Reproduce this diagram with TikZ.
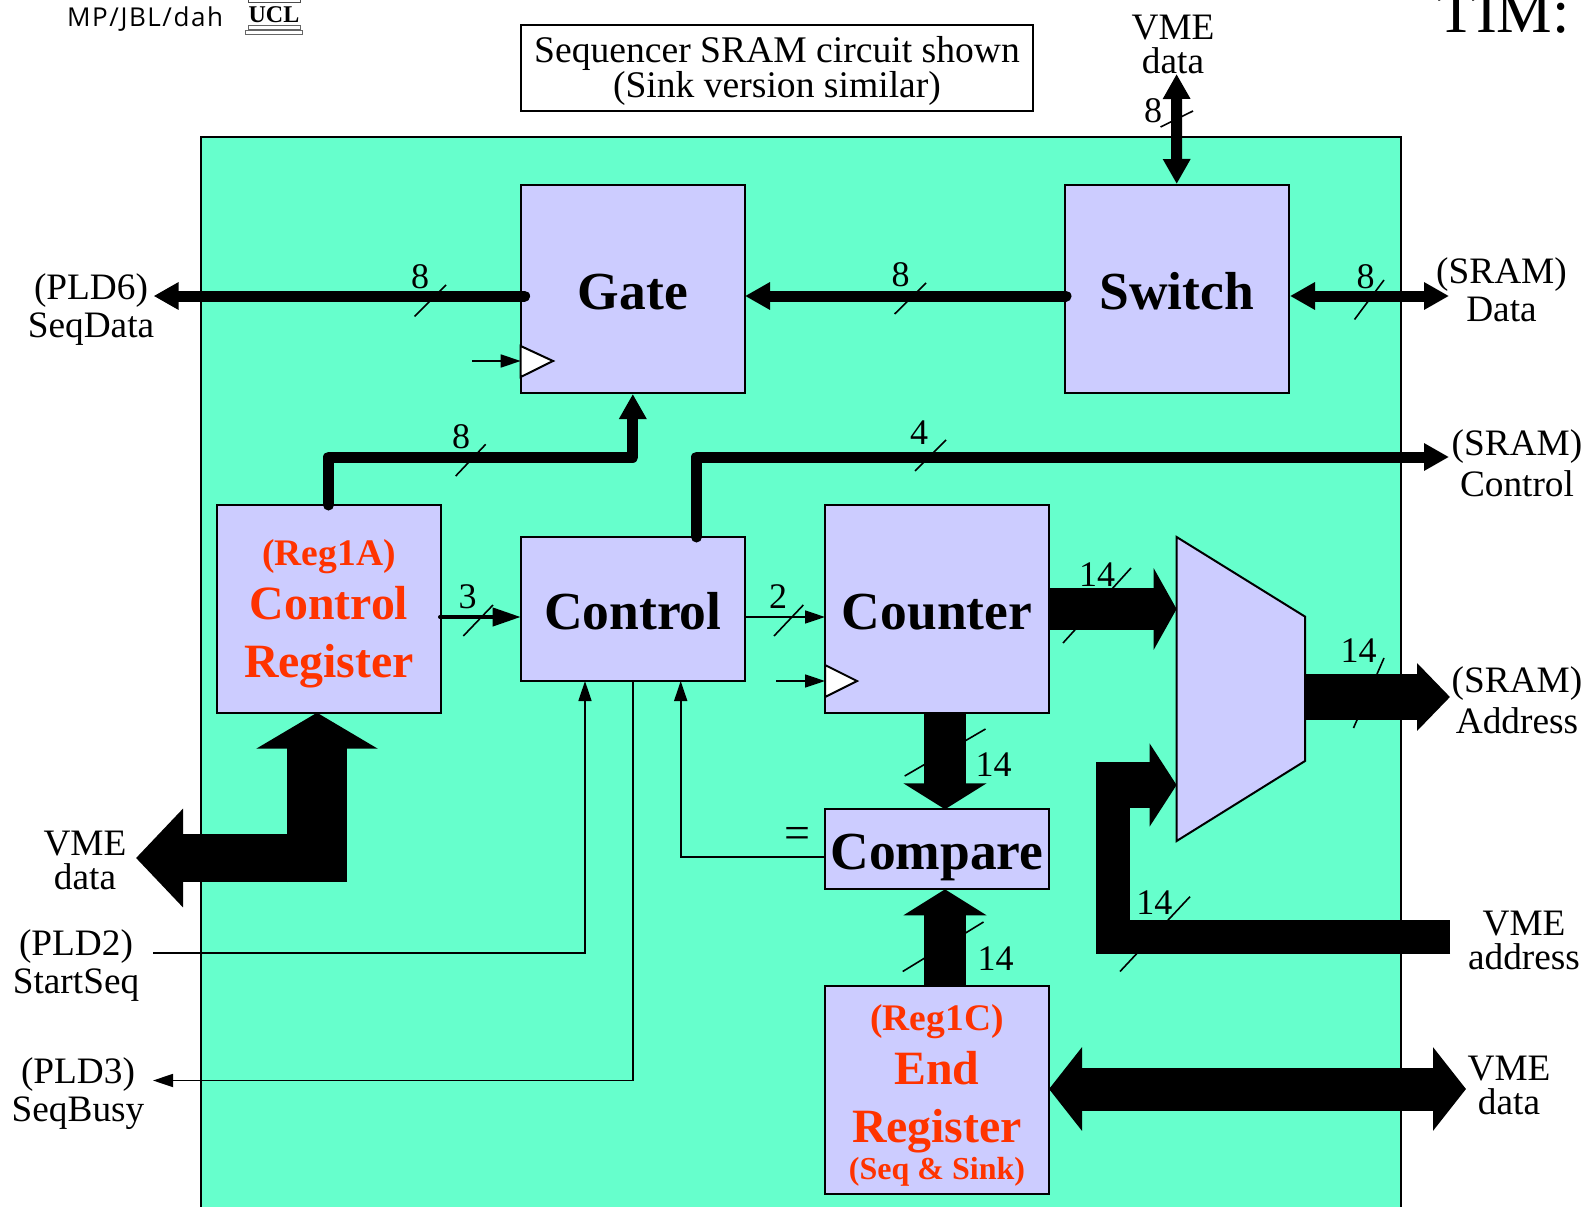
\documentclass[tikz,border=0pt]{standalone}
\usepackage{fontspec}
\setmainfont{Liberation Serif}
\newfontfamily\notefont[LetterSpace=6]{Open Sans}
\usetikzlibrary{arrows.meta}
\definecolor{boardcol}{HTML}{66FFCC}
\definecolor{blockcol}{HTML}{CCCCFF}
\definecolor{regcol}{HTML}{FF3300}
\tikzset{
  block/.style={draw,fill=blockcol,line width=2pt,minimum width=224pt,inner sep=0pt,align=center},
  lbl/.style={align=center,inner sep=0pt,font=\fontsize{37.3}{38}\selectfont},
  lblwide/.style={align=center,inner sep=0pt,font=\fontsize{37.3}{41}\selectfont},
  lbltight/.style={align=center,inner sep=0pt,font=\fontsize{37.3}{34}\selectfont},
  num/.style={inner sep=0pt,font=\fontsize{36}{36}\selectfont},
  title/.style={font=\fontsize{53.5}{54}\selectfont\bfseries,text height=40pt,text depth=0pt},
  slash/.style={line width=1.6pt},
  wire/.style={line width=1.7pt,-{Triangle[length=20pt,width=13pt]}},
  bus/.style={line width=11pt,line cap=round,line join=round,-{Triangle[length=25pt,width=26pt]}},
  busb/.style={line width=11pt,{Triangle[length=25pt,width=26pt]}-{Triangle[length=25pt,width=26pt]}},
}
\newcommand{\regsmall}[1]{{\fontsize{37.5}{37.5}\selectfont\bfseries\color{regcol}#1}}
\newcommand{\regbig}[1]{{\fontsize{47.8}{47.8}\selectfont\bfseries\color{regcol}#1}}
\begin{document}
\begin{tikzpicture}[x=1pt,y=-1pt,>=latex]
        \clip (0,0) rectangle (1585,1207);
        \fill[white] (0,0) rectangle (1585,1207);
        \draw[fill=boardcol,line width=2pt] (201,136.5) rectangle (1401,1215);
        % corner of the page
        \node[inner sep=0pt,anchor=west,font=\notefont\fontsize{26}{26}\selectfont] (author) at (67,19.5) {MP/JBL/dah};
        \node[inner sep=0pt,font=\fontsize{24}{24}\selectfont\bfseries] (ucl) at (274,15) {UCL};
        \draw[line width=1pt,draw=black!70] (248,0) rectangle (300,3);
        \draw[line width=1pt,draw=black!60] (248,26) rectangle (300,29.5);
        \draw[line width=1pt,draw=black!60] (245.5,30.5) rectangle (302.5,34.5);
        \node[inner sep=0pt,anchor=base east,font=\fontsize{62.5}{62.5}\selectfont] (tim) at (1570,33) {TIM:};
        \draw[line width=2pt,fill=white] (520.7,25.5) rectangle (1033,111);
        \node[align=center,inner sep=0pt,font=\fontsize{37.6}{33}\selectfont] (note) at (777,71) {Sequencer SRAM circuit shown\\(Sink version similar)};

        % blocks
        \node[block,minimum height=208pt,title] (gate) at (632.8,289) {Gate};
        \node[block,minimum height=208pt,title] (switch) at (1176.7,289) {Switch};
        \node[block,minimum height=144pt,title] (control) at (632.8,609) {Control};
        \node[block,minimum height=208pt,title] (counter) at (937,609) {Counter};
        \node[block,minimum height=80pt,title] (compare) at (937,849.3) {Compare};
        \node[block,minimum height=208pt,font=\fontsize{36}{54}\selectfont] (reg1a) at (329,609) {\rule{0pt}{36pt}\regsmall{(Reg1A)}\\\regbig{Control}\\[4pt]\regbig{Register}};
        \node[block,minimum height=208pt,font=\fontsize{36}{54}\selectfont] (reg1c) at (937,1089.5) {\rule{0pt}{38pt}\regsmall{(Reg1C)}\\\regbig{End}\\[4pt]\regbig{Register}\\[-17.5pt]{\fontsize{32}{32}\selectfont\bfseries\color{regcol}(Seq \& Sink)}};
        \draw[fill=blockcol,line width=2pt] (1176.6,537) -- (1305,616.6) -- (1305,761) -- (1176.6,841) -- cycle;

        % clock marks
        \draw[fill=white,line width=2pt] (520.7,346) -- (553,361) -- (520.7,377) -- cycle;
        \draw[fill=white,line width=2pt] (825,665) -- (857,681) -- (825,697) -- cycle;

        % slashes go under the buses
        \draw[slash] (414.5,316.5) -- (446,285);
        \draw[slash] (894.6,314) -- (926,283);
        \draw[slash] (1354.5,319.5) -- (1384,280);
        \draw[slash] (1160.5,127) -- (1193,111);
        \draw[slash] (455.7,476) -- (485.7,444.3);
        \draw[slash] (915,471) -- (946,440);
        \draw[slash] (463.3,636) -- (493,605);
        \draw[slash] (774,636) -- (803.3,605);
        \draw[slash] (1063,643) -- (1131,568);
        \draw[slash] (1353.5,728) -- (1384,658);
        \draw[slash] (1120,971.5) -- (1190,896.6);
        \draw[slash] (904.7,776) -- (985.5,729);
        \draw[slash] (902.7,971.5) -- (983.5,922);

        \coordinate (gateout) at (524.6,296);
        \coordinate (seqdata) at (153.6,296);
        \coordinate (switchout) at (1066,296);
        \coordinate (gatein) at (745,296);
        \coordinate (switchr) at (1290,296);
        \coordinate (sramdata) at (1449,296);
        \coordinate (vmetop) at (1176.6,74);
        \coordinate (regtop) at (328.5,505);
        \coordinate (regbend) at (328.5,457);
        \coordinate (gatebend) at (632.8,457);
        \coordinate (ctltop) at (696.5,537);
        \coordinate (ctlbend) at (696.5,457);
        \coordinate (sramctl) at (1449,457);
        \coordinate (regout) at (440,617);
        \coordinate (ctlin) at (520.7,617);
        \coordinate (ctlout) at (745,617);
        \coordinate (cntin) at (825,617);

        % buses
        \draw[bus] (gateout) -- (seqdata);
        \draw[bus] (switchout) -- (gatein);
        \draw[busb] (switchr) -- (sramdata);
        \draw[busb] (vmetop) -- (switch.north);
        \draw[bus] (regtop) -- (regbend) -- (gatebend) -- (gate.south);
        \draw[bus] (ctltop) -- (ctlbend) -- (sramctl);
        \draw[line width=4pt,line cap=round,-{Triangle[length=28pt,width=18pt]}] (regout) -- (ctlin);
        \draw[wire] (ctlout) -- (cntin);

        % clock inputs
        \coordinate (gateclk) at (472,361);
        \coordinate (gatetip) at (520.7,361);
        \coordinate (cntclk) at (776,681);
        \coordinate (cnttip) at (825,681);
        \draw[wire] (gateclk) -- (gatetip);
        \draw[wire] (cntclk) -- (cnttip);

        % thin signals
        \coordinate (startseq) at (153,953);
        \coordinate (startbend) at (585,953);
        \coordinate (startin) at (585,681);
        \coordinate (busybend) at (632.8,1080.5);
        \coordinate (seqbusy) at (153,1080.5);
        \coordinate (eqbend) at (680.7,857);
        \coordinate (eqout) at (825,857);
        \coordinate (eqin) at (680.7,681);
        \draw[wire] (startseq) -- (startbend) -- (startin);
        \draw[wire] (control.south) -- (busybend) -- (seqbusy);
        \draw[wire] (eqout) -- (eqbend) -- (eqin);

        % fat buses
        \coordinate (cntout) at (1048.5,609);
        \coordinate (muxa) at (1176.6,609);
        \coordinate (muxout) at (1305,697);
        \coordinate (sramaddr) at (1450,697);
        \coordinate (vmeaddr) at (1450,937);
        \coordinate (addrbend) at (1113,937);
        \coordinate (addrtop) at (1113,762.3);
        \coordinate (addrfeed) at (1096,785);
        \coordinate (muxb) at (1176.6,785);
        \coordinate (cntdown) at (945,713.5);
        \coordinate (cmptop) at (945,809.3);
        \coordinate (endup) at (945,985.5);
        \coordinate (cmpbot) at (945,889.3);
        \coordinate (endr) at (1049,1089);
        \coordinate (vmeend) at (1466,1089);
        \coordinate (vmeleft) at (136,858);
        \coordinate (reghor) at (347,858);
        \coordinate (regvert) at (317,882);
        \coordinate (regbot) at (317,712.7);
        \draw[line width=42pt,-{Triangle[length=23pt,width=81pt]}] (cntout) -- (muxa);
        \draw[line width=46pt,-{Triangle[length=33pt,width=66pt]}] (muxout) -- (sramaddr);
        \draw[line width=34pt,line join=miter] (vmeaddr) -- (addrbend) -- (addrtop);
        \draw[line width=46pt,-{Triangle[length=27pt,width=82pt]}] (addrfeed) -- (muxb);
        \draw[line width=41.5pt,-{Triangle[length=26pt,width=82pt]}] (cntdown) -- (cmptop);
        \draw[line width=41.5pt,-{Triangle[length=26pt,width=82pt]}] (endup) -- (cmpbot);
        \draw[line width=43pt,{Triangle[length=33pt,width=82pt]}-{Triangle[length=33pt,width=82pt]}] (endr) -- (vmeend);
        \draw[line width=48pt,-{Triangle[length=47pt,width=96pt]}] (reghor) -- (vmeleft);
        \draw[line width=60pt,-{Triangle[length=36pt,width=120pt]}] (regvert) -- (regbot);

        % widths
        \node[num] (nseq) at (420,277) {8};
        \node[num] (ngate) at (900.6,275) {8};
        \node[num] (nsram) at (1365.6,277) {8};
        \node[num] (nvme) at (1153,111) {8};
        \node[num] (nreg) at (461,437) {8};
        \node[num] (nctl) at (919,433) {4};
        \node[num] (nthree) at (467.7,597) {3};
        \node[num] (ntwo) at (778,597) {2};
        \node[num] (ncnt) at (1097,575) {14};
        \node[num] (nmux) at (1358.5,651) {14};
        \node[num] (naddr) at (1154.4,903) {14};
        \node[num] (ndown) at (993.6,765) {14};
        \node[num] (nup) at (995.6,959) {14};
        \node[inner sep=0pt,font=\fontsize{46}{46}\selectfont] (equal) at (797.5,838) {=};

        % outside signals
        \node[lbl] (lseqdata) at (91,309.5) {(PLD6)\\SeqData};
        \node[lbl] (lsramdata) at (1501.5,289.5) {(SRAM)\\Data};
        \node[lblwide] (lsramctl) at (1517,463.5) {(SRAM)\\Control};
        \node[lblwide] (lsramaddr) at (1517,700) {(SRAM)\\Address};
        \node[lbltight] (lvmeaddr) at (1524,940) {VME\\address};
        \node[lbltight] (lvmeleft) at (85,860) {VME\\data};
        \node[lbltight] (lvmeend) at (1509,1085) {VME\\data};
        \node[lbltight] (lvmetop) at (1173,44) {VME\\data};
        \node[lbl] (lstart) at (76,965.5) {(PLD2)\\StartSeq};
        \node[lbl] (lbusy) at (78,1093.5) {(PLD3)\\SeqBusy};
\end{tikzpicture}
\end{document}
